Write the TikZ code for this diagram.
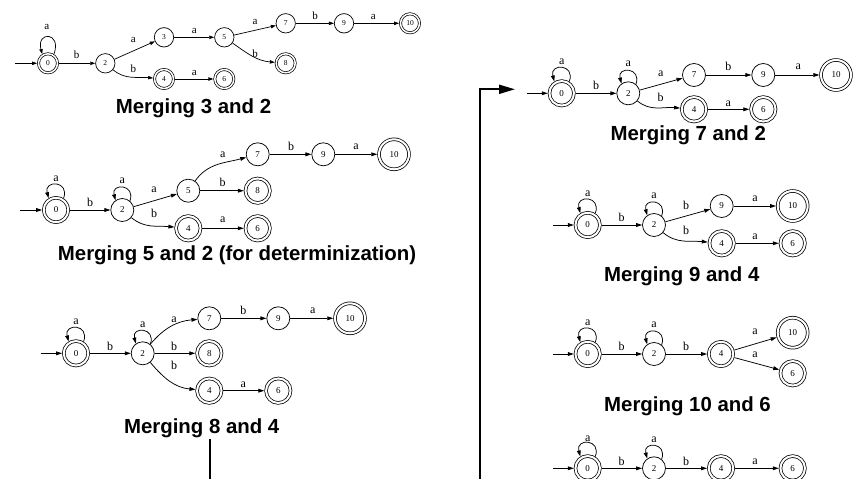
\documentclass[tikz,border=0pt]{standalone}
\usepackage{fontspec}
\setmainfont{Liberation Serif}
\newfontfamily\ttlfont{Liberation Sans}
\usetikzlibrary{arrows.meta}
\newcommand{\selfloop}[5]{\draw[#1] (#2.#3) .. controls +(70:#5) and +(105:#5) .. (#2.#4);}
\tikzset{
  tra/.style={-{Triangle[length=5pt,width=3.4pt]}, line width=0.7pt},
  tr/.style={-{Triangle[length=6pt,width=3.8pt]}, line width=0.75pt},
  sA/.style={circle, draw, line width=0.7pt, minimum size=19.4pt, inner sep=0pt, font=\fontsize{7.5}{8}\selectfont},
  aA/.style={sA, double, double distance=1.5pt, minimum size=19pt, outer sep=1.4pt},
  sB/.style={circle, draw, line width=0.75pt, minimum size=23pt, inner sep=0pt, font=\fontsize{9}{10}\selectfont},
  aB/.style={sB, double, double distance=2pt, minimum size=24.5pt, outer sep=1.7pt},
  bB/.style={aB, minimum size=30pt},
  labA/.style={font=\fontsize{11}{12}\selectfont, inner sep=0pt},
  labB/.style={font=\fontsize{12}{13}\selectfont, inner sep=0pt},
  ttl/.style={font=\ttlfont\bfseries\fontsize{20.4}{24}\selectfont, inner sep=1pt},
  bigarrow/.style={line width=2pt, -{Triangle[length=16pt,width=9pt]}},
}
\begin{document}
\begin{tikzpicture}[x=1pt,y=-1pt]
\useasboundingbox (0,0) rectangle (863,479);
\clip (0,0) rectangle (863,479);

% ---------- Diagram 1 ----------
\coordinate (d1s) at (15,63.3);
\node[aA] (d1n0) at (48,63.3) {0};
\node[sA] (d1n2) at (105.3,63.3) {2};
\node[sA] (d1n3) at (164,37.3) {3};
\node[aA] (d1n4) at (164,79) {4};
\node[sA] (d1n5) at (224.3,37.3) {5};
\node[aA] (d1n6) at (224.3,79) {6};
\node[sA] (d1n7) at (285.7,23.3) {7};
\node[aA] (d1n8) at (285.7,63.3) {8};
\node[sA] (d1n9) at (344,23.3) {9};
\node[aA] (d1n10) at (410,23.3) {10};
\draw[tra] (d1s) -- (d1n0);
\selfloop{tra}{d1n0}{57}{122}{24pt}
\draw[tra] (d1n0) -- (d1n2);
\draw[tra] (d1n2) -- (d1n3);
\draw[tra] (d1n2) to[out=-40,in=175] (d1n4);
\draw[tra] (d1n3) -- (d1n5);
\draw[tra] (d1n4) -- (d1n6);
\draw[tra] (d1n5) -- (d1n7);
\draw[tra] (d1n5) to[out=-35,in=175] (d1n8);
\draw[tra] (d1n7) -- (d1n9);
\draw[tra] (d1n9) -- (d1n10);
\node[labA] (d1l1) at (46.7,27) {a};
\node[labA] (d1l2) at (76.7,55) {b};
\node[labA] (d1l3) at (133.3,40) {a};
\node[labA] (d1l4) at (133.3,68.3) {b};
\node[labA] (d1l5) at (194.3,31) {a};
\node[labA] (d1l6) at (194.3,73) {a};
\node[labA] (d1l7) at (255,22) {a};
\node[labA] (d1l8) at (255,53.3) {b};
\node[labA] (d1l9) at (315,16) {b};
\node[labA] (d1l10) at (373.3,17) {a};

\node[ttl] (t1) at (193.5,108) {Merging 3 and 2};

% ---------- Diagram 2 ----------
\coordinate (d2s) at (20,210);
\node[aB] (d2n0) at (56,210) {0};
\node[sB] (d2n2) at (122.3,210) {2};
\node[sB] (d2n5) at (188.3,190.7) {5};
\node[aB] (d2n4) at (188.3,228.3) {4};
\node[sB] (d2n7) at (257.7,154.3) {7};
\node[aB] (d2n8) at (257.7,190.7) {8};
\node[aB] (d2n6) at (257.7,228.3) {6};
\node[sB] (d2n9) at (323.3,154.3) {9};
\node[bB] (d2n10) at (394,154.3) {10};
\draw[tr] (d2s) -- (d2n0);
\selfloop{tr}{d2n0}{57}{122}{19pt}
\selfloop{tr}{d2n2}{50}{125}{18pt}
\draw[tr] (d2n0) -- (d2n2);
\draw[tr] (d2n2) -- (d2n5);
\draw[tr] (d2n2) to[out=-40,in=175] (d2n4);
\draw[tr] (d2n5) to[out=55,in=195] (d2n7);
\draw[tr] (d2n5) -- (d2n8);
\draw[tr] (d2n4) -- (d2n6);
\draw[tr] (d2n7) -- (d2n9);
\draw[tr] (d2n9) -- (d2n10);
\node[labB] (d2l1) at (56,179) {a};
\node[labB] (d2l2) at (122.3,181) {a};
\node[labB] (d2l3) at (90,202.7) {b};
\node[labB] (d2l4) at (154,189.3) {a};
\node[labB] (d2l5) at (154,213.3) {b};
\node[labB] (d2l6) at (222.7,155) {a};
\node[labB] (d2l7) at (222.7,182.7) {b};
\node[labB] (d2l8) at (222.7,220) {a};
\node[labB] (d2l9) at (291,146.7) {b};
\node[labB] (d2l10) at (356,146.7) {a};

\node[ttl] (t2) at (237,255) {Merging 5 and 2 (for determinization)};

% ---------- Diagram 3 ----------
\coordinate (d3s) at (40.7,353.3);
\node[aB] (d3n0) at (76,353.3) {0};
\node[sB] (d3n2) at (142.7,353.3) {2};
\node[sB] (d3n7) at (209.3,318.3) {7};
\node[aB] (d3n8) at (209.3,353.3) {8};
\node[aB] (d3n4) at (209.3,390.7) {4};
\node[sB] (d3n9) at (278.3,318.3) {9};
\node[aB] (d3n6) at (278.3,390.7) {6};
\node[bB] (d3n10) at (350,318.3) {10};
\draw[tr] (d3s) -- (d3n0);
\selfloop{tr}{d3n0}{57}{122}{19pt}
\selfloop{tr}{d3n2}{50}{125}{18pt}
\draw[tr] (d3n0) -- (d3n2);
\draw[tr] (d3n2) to[out=50,in=185] (d3n7);
\draw[tr] (d3n2) -- (d3n8);
\draw[tr] (d3n2) to[out=-50,in=175] (d3n4);
\draw[tr] (d3n7) -- (d3n9);
\draw[tr] (d3n9) -- (d3n10);
\draw[tr] (d3n4) -- (d3n6);
\node[labB] (d3l1) at (76,321.7) {a};
\node[labB] (d3l2) at (142.7,325) {a};
\node[labB] (d3l3) at (110,346.7) {b};
\node[labB] (d3l4) at (174,320) {a};
\node[labB] (d3l5) at (174,346) {b};
\node[labB] (d3l6) at (174,365) {b};
\node[labB] (d3l7) at (243.3,310.7) {b};
\node[labB] (d3l8) at (312.7,310.7) {a};
\node[labB] (d3l9) at (243.3,385) {a};

\node[ttl] (t3) at (201.7,428.3) {Merging 8 and 4};

% ---------- Right 1 ----------
\coordinate (r1s) at (526.7,93.3);
\node[aB] (r1n0) at (561.7,93.3) {0};
\node[sB] (r1n2) at (628.3,93.3) {2};
\node[sB] (r1n7) at (694,75) {7};
\node[sB] (r1n9) at (763.3,75) {9};
\node[bB] (r1n10) at (836,75) {10};
\node[aB] (r1n4) at (694,109.3) {4};
\node[aB] (r1n6) at (763.3,109.3) {6};
\draw[tr] (r1s) -- (r1n0);
\selfloop{tr}{r1n0}{57}{122}{19pt}
\selfloop{tr}{r1n2}{50}{125}{18pt}
\draw[tr] (r1n0) -- (r1n2);
\draw[tr] (r1n2) -- (r1n7);
\draw[tr] (r1n2) to[out=-40,in=175] (r1n4);
\draw[tr] (r1n7) -- (r1n9);
\draw[tr] (r1n9) -- (r1n10);
\draw[tr] (r1n4) -- (r1n6);
\node[labB] (r1l1) at (561.7,61.7) {a};
\node[labB] (r1l2) at (628.3,64) {a};
\node[labB] (r1l3) at (596,85) {b};
\node[labB] (r1l4) at (660.7,74) {a};
\node[labB] (r1l5) at (660.7,97.3) {b};
\node[labB] (r1l6) at (728.3,66.7) {b};
\node[labB] (r1l7) at (798.3,66.7) {a};
\node[labB] (r1l8) at (728.3,103.3) {a};

\node[ttl] (t4) at (688.3,135) {Merging 7 and 2};

% ---------- Right 2 ----------
\coordinate (r2s) at (553.3,225);
\node[aB] (r2n0) at (587.7,225) {0};
\node[sB] (r2n2) at (654,225) {2};
\node[sB] (r2n9) at (721.7,206) {9};
\node[bB] (r2n10) at (792.7,206) {10};
\node[aB] (r2n4) at (721.7,243.3) {4};
\node[aB] (r2n6) at (792.7,243.3) {6};
\draw[tr] (r2s) -- (r2n0);
\selfloop{tr}{r2n0}{57}{122}{19pt}
\selfloop{tr}{r2n2}{50}{125}{18pt}
\draw[tr] (r2n0) -- (r2n2);
\draw[tr] (r2n2) -- (r2n9);
\draw[tr] (r2n2) to[out=-40,in=175] (r2n4);
\draw[tr] (r2n9) -- (r2n10);
\draw[tr] (r2n4) -- (r2n6);
\node[labB] (r2l1) at (587.7,194) {a};
\node[labB] (r2l2) at (654,196) {a};
\node[labB] (r2l3) at (621.7,217.3) {b};
\node[labB] (r2l4) at (686,205) {b};
\node[labB] (r2l5) at (686,230) {b};
\node[labB] (r2l6) at (755,198.3) {a};
\node[labB] (r2l7) at (755,236.7) {a};

\node[ttl] (t5) at (681.7,276.7) {Merging 9 and 4};

% ---------- Right 3 ----------
\coordinate (r3s) at (553.3,354);
\node[aB] (r3n0) at (587.7,354) {0};
\node[sB] (r3n2) at (654,354) {2};
\node[aB] (r3n4) at (721,354) {4};
\node[bB] (r3n10) at (792.7,332.7) {10};
\node[aB] (r3n6) at (792.7,373.3) {6};
\draw[tr] (r3s) -- (r3n0);
\selfloop{tr}{r3n0}{57}{122}{19pt}
\selfloop{tr}{r3n2}{50}{125}{18pt}
\draw[tr] (r3n0) -- (r3n2);
\draw[tr] (r3n2) -- (r3n4);
\draw[tr] (r3n4) -- (r3n10);
\draw[tr] (r3n4) -- (r3n6);
\node[labB] (r3l1) at (587.7,322.7) {a};
\node[labB] (r3l2) at (654,325) {a};
\node[labB] (r3l3) at (621.7,346) {b};
\node[labB] (r3l4) at (686,346) {b};
\node[labB] (r3l5) at (755,331.7) {a};
\node[labB] (r3l6) at (755,355) {a};

\node[ttl] (t6) at (687.5,406.7) {Merging 10 and 6};

% ---------- Right 4 ----------
\coordinate (r4s) at (553.3,468.3);
\node[aB] (r4n0) at (587.7,468.3) {0};
\node[sB] (r4n2) at (654,468.3) {2};
\node[aB] (r4n4) at (721,468.3) {4};
\node[aB] (r4n6) at (792.7,468.3) {6};
\draw[tr] (r4s) -- (r4n0);
\selfloop{tr}{r4n0}{57}{122}{19pt}
\selfloop{tr}{r4n2}{50}{125}{18pt}
\draw[tr] (r4n0) -- (r4n2);
\draw[tr] (r4n2) -- (r4n4);
\draw[tr] (r4n4) -- (r4n6);
\node[labB] (r4l1) at (587.7,438.3) {a};
\node[labB] (r4l2) at (654,440) {a};
\node[labB] (r4l3) at (621.7,461.7) {b};
\node[labB] (r4l4) at (686,461.7) {b};
\node[labB] (r4l5) at (755,461.7) {a};

% ---------- big connector ----------
\coordinate (vx) at (210,0);
\coordinate (tip) at (515,89.3);
\draw[bigarrow] (t3.south -| vx) -- (210,500) -- (480,500) -- (480,89.3) -- (tip);
\end{tikzpicture}
\end{document}
